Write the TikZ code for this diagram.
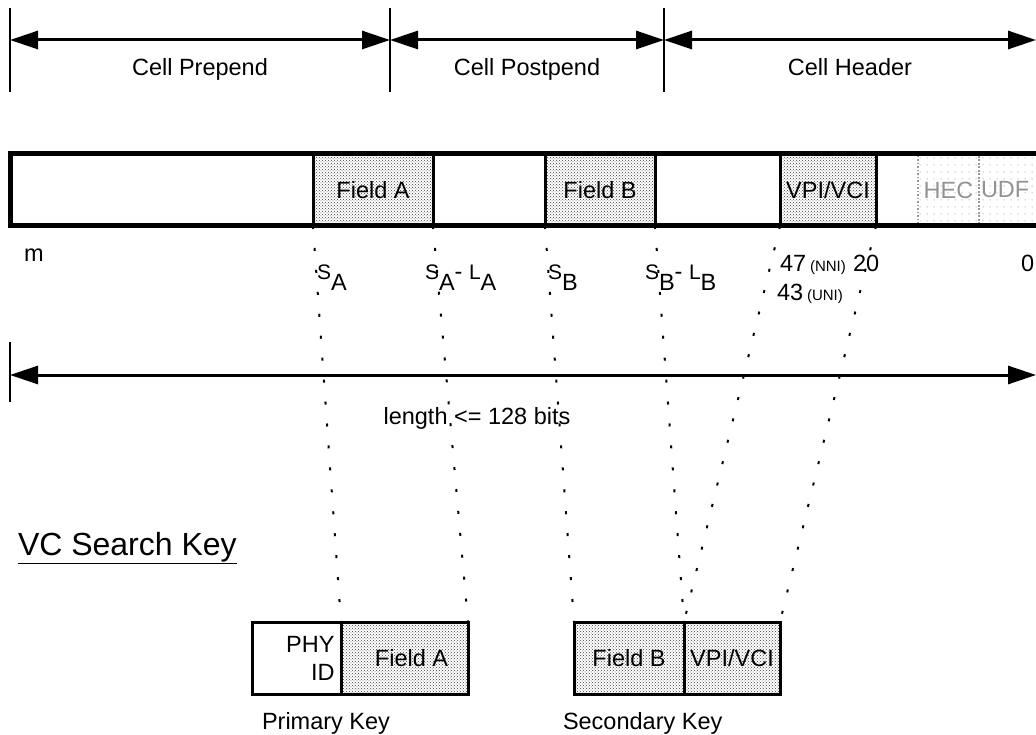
\documentclass[tikz,border=0pt]{standalone}
\usepackage{fontspec}
\setmainfont{Liberation Sans}
\usepackage{tikz}
\usetikzlibrary{arrows.meta, positioning, patterns}

\pgfdeclarepatternformonly{sparse dots}{\pgfpointorigin}{\pgfpoint{7pt}{7pt}}{\pgfpoint{7pt}{7pt}}{%
  \pgfpathcircle{\pgfpoint{3.5pt}{3.5pt}}{0.7pt}\pgfusepath{fill}}
\newcommand{\lowsub}[2]{{\fontsize{21}{24}\selectfont #1}\raisebox{-10pt}{#2}}
\newcommand{\iface}[1]{{\fontsize{15}{18}\selectfont(#1)}}

\begin{document}
\begin{tikzpicture}[x=1pt, y=-1pt,
    every node/.style={font=\fontsize{23.5}{28}\selectfont, inner sep=0pt, outer sep=0pt},
    dimline/.style={line width=3pt, {Triangle[length=28pt, width=18pt]}-{Triangle[length=28pt, width=18pt]}},
    tickline/.style={line width=2.5pt},
    plain/.style={draw, line width=3pt, minimum height=72pt, anchor=north west},
    field/.style={plain, pattern=crosshatch dots, pattern color=black!75},
    ghost/.style={draw=gray!80, dotted, line width=1.5pt, pattern=sparse dots, pattern color=gray!70,
        text=gray!85, minimum height=72pt, anchor=north west},
    link/.style={line width=2pt, dash pattern=on 3pt off 19pt}
]
\useasboundingbox (0,0) rectangle (1036,735);
\clip (0,0) rectangle (1036,735);

% Regions of the cell
\coordinate (p0) at (10,40);
\coordinate (p1) at (390,40);
\coordinate (p2) at (664,40);
\coordinate (p3) at (1036,40);
\draw[tickline] (10,8) -- (10,92);
\draw[tickline] (390,8) -- (390,92);
\draw[tickline] (664,8) -- (664,92);
\draw[dimline] (p0) -- node[below=18pt] {Cell Prepend} (p1);
\draw[dimline] (p1) -- node[below=18pt] {Cell Postpend} (p2);
\draw[dimline] (p2) -- node[below=18pt] {Cell Header} (p3);

% Cell fields
\node[field, minimum width=120pt] (barA) at (313,154) {Field A};
\node[field, minimum width=110pt] (barB) at (545,154) {Field B};
\node[field, minimum width=96pt] (barV) at (780,154) {VPI/VCI};
\node[ghost, minimum width=61pt] (hec) at (918,154) {HEC};
\node[ghost, minimum width=80pt, text width=76pt, align=left] (udf) at (979,154) {UDF};
\node[draw, line width=5pt, minimum width=1080pt, minimum height=72pt, anchor=north west] (cell) at (10,154) {};

% Bit positions
\node[anchor=base west] (m) at (24,262) {m};
\node[anchor=base west] (sA) at (317,280) {\lowsub{S}{A}};
\node[anchor=base west] (sAlA) at (425,280) {\lowsub{S}{A}- \lowsub{L}{A}};
\node[anchor=base west] (sB) at (548,280) {\lowsub{S}{B}};
\node[anchor=base west] (sBlB) at (645,280) {\lowsub{S}{B}- \lowsub{L}{B}};
\node[anchor=base west] (nni) at (780,272) {47\,\iface{NNI}};
\node[anchor=base west] (twenty) at (853,272) {20};
\node[anchor=base west] (uni) at (777,301) {43\,\iface{UNI}};
\node[anchor=base west] (zero) at (1021,272) {0};

% Key length
\coordinate (q0) at (10,375);
\coordinate (q1) at (1036,375);
\draw[tickline] (10,342) -- (10,402);
\draw[dimline] (q0) -- (q1);
\node[anchor=base] (len) at (477,424) {length <= 128 bits};

% Search keys
\node[anchor=base west, font=\fontsize{32}{36}\selectfont] (vcsk) at (18,555) {\underline{VC Search Key}};
\node[plain, minimum width=89pt, text width=76pt, align=right] (keyPhy) at (252,622) {PHY\\ID};
\node[field, minimum width=127pt, right=0pt of keyPhy] (keyA) {\hspace*{14pt}Field A};
\node[field, minimum width=110pt] (keyB) at (574,622) {Field B};
\node[field, minimum width=96pt, right=0pt of keyB] (keyV) {VPI/VCI};
\node[anchor=base west] (prim) at (262,729) {Primary Key};
\node[anchor=base west] (sec) at (563,729) {Secondary Key};

% Field mapping
\draw[link] (barA.south west) -- (keyA.north west);
\draw[link] (barA.south east) -- (keyA.north east);
\draw[link] (barB.south west) -- (keyB.north west);
\draw[link] (barB.south east) -- (keyB.north east);
\draw[link] (barV.south west) -- (keyV.north west);
\draw[link] (barV.south east) -- (keyV.north east);
\end{tikzpicture}
\end{document}
